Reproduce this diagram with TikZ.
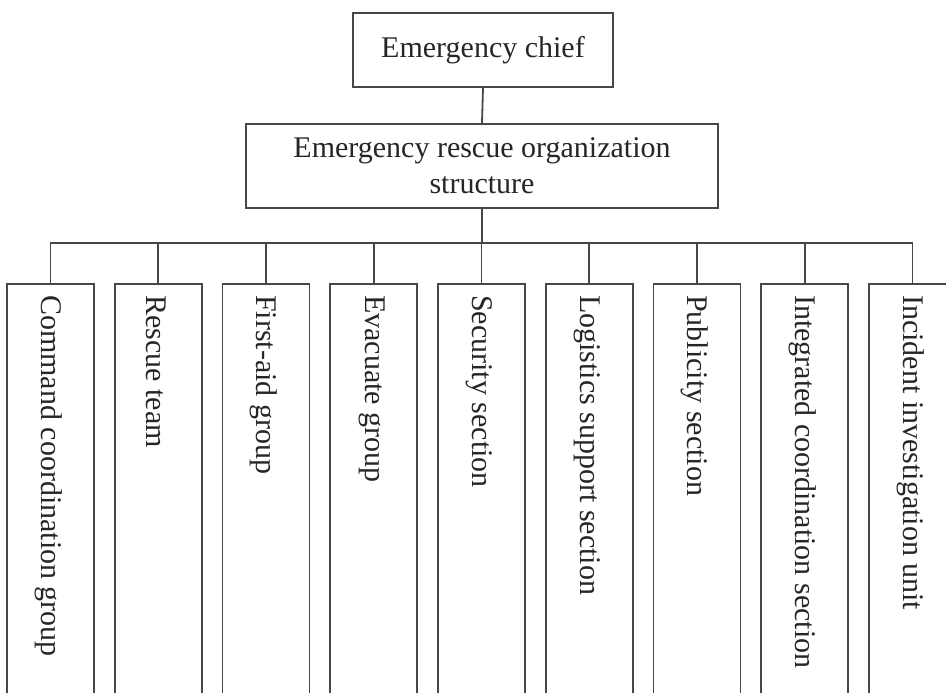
\documentclass[tikz,border=0pt]{standalone}
\usepackage{fontspec}
\setmainfont{Liberation Serif}
\begin{document}
\begin{tikzpicture}[x=1pt,y=-1pt,
  box/.style={draw=black!72, line width=1.8pt, rectangle, inner sep=0pt},
  unitbox/.style={box, minimum width=87pt, minimum height=440pt, anchor=north},
  vlabel/.style={rotate=-90, anchor=west, text=black!85, inner sep=0pt},
  link/.style={draw=black!72, line width=1.8pt},
  every node/.append style={font=\fontsize{30}{36}\selectfont}]
\clip (0,0) rectangle (946,693);
\fill[white] (0,0) rectangle (946,693);

% top of the hierarchy
\node[box, minimum width=260pt, minimum height=74pt, text=black!85] (chief) at (483,50) {Emergency chief};
\node[box, minimum width=472pt, minimum height=84pt, align=center, text=black!85] (org) at (482,166)
  {Emergency rescue organization\\structure};
\draw[link] (chief.south) -- (org.north);

% the nine working groups
\foreach \i/\name in {1/Command coordination group, 2/Rescue team, 3/First-aid group,
    4/Evacuate group, 5/Security section, 6/Logistics support section,
    7/Publicity section, 8/Integrated coordination section, 9/Incident investigation unit}{
  \node[unitbox] (u\i) at ({50.5+107.75*(\i-1)},283) {};
  \node[vlabel] (t\i) at ([yshift=-12pt, xshift=-2pt]u\i.north) {\name};
}

% distribution bus
\coordinate (bus) at (482,243);
\draw[link] (org.south) -- (bus);
\draw[link] (u1.north) -- (u1.north |- bus) -- (u9.north |- bus) -- (u9.north);
\foreach \i in {2,...,8}{
  \draw[link] (u\i.north) -- (u\i.north |- bus);
}
\end{tikzpicture}
\end{document}
